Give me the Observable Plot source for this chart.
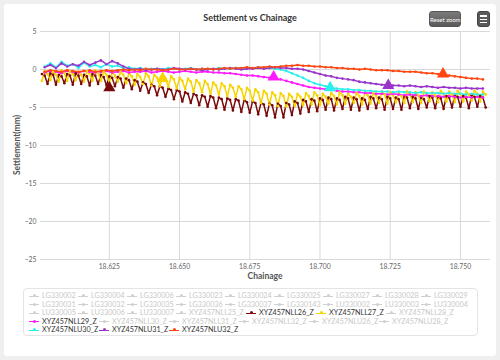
<!DOCTYPE html>
<html><head><meta charset="utf-8">
<script src="https://cdn.jsdelivr.net/npm/d3@7"></script>
<script src="https://cdn.jsdelivr.net/npm/@observablehq/plot@0.6"></script>
<style>
body{margin:0;background:#efefef;}
#root{position:relative;width:500px;height:360px;background:#efefef;font-family:Lato,"Open Sans",sans-serif;overflow:hidden}
#card{position:absolute;left:4px;top:4px;width:492px;height:352px;background:#fff;border-radius:3px}
#chart{position:absolute;left:0;top:0}
#title{position:absolute;left:0;width:500px;top:12px;text-align:center;font-weight:bold;font-size:9px;color:#333;line-height:12px}
#xlabel{position:absolute;left:40px;width:450px;top:270px;text-align:center;font-weight:bold;font-size:8.5px;color:#555;line-height:12px}
#ylabel{position:absolute;left:17px;top:145px;transform:translate(-50%,-50%) rotate(-90deg);font-weight:bold;font-size:8.5px;color:#555;white-space:nowrap}
#reset{position:absolute;left:429px;top:11px;width:32px;height:16px;border-radius:3px;background:linear-gradient(#7a7a7a,#5a5a5a);color:#fff;font-size:6px;line-height:15px;text-align:center;white-space:nowrap;border:1px solid #555;box-sizing:border-box}
#menu{position:absolute;left:477px;top:11px;width:13px;height:16px;border-radius:3px;background:#5a5a5a;border:1px solid #444;box-sizing:border-box}
#menu i{position:absolute;left:2px;width:7px;height:1.4px;background:#fff}
#legend{position:absolute;left:23px;top:288px;width:455px;height:48px;border:1px solid #e4e4e4;border-radius:4px;box-sizing:border-box}
.li{position:absolute;height:10px;line-height:10px;font-size:7.2px;white-space:nowrap}
.li .sym{position:absolute;left:0;top:4.5px;width:10px;height:1px}
.li .mk{position:absolute;left:3.5px;top:3px;width:3px;height:3px;border-radius:50%}
.li .tx{position:absolute;left:13px;top:0}
</style></head>
<body>
<div id="root">
  <div id="card"></div>
  <div id="chart"></div>
  <div id="title">Settlement vs Chainage</div>
  <div id="xlabel">Chainage</div>
  <div id="ylabel">Settlement(mm)</div>
  <div id="reset">Reset zoom</div>
  <div id="menu"><i style="top:3.2px"></i><i style="top:6.6px"></i><i style="top:10px"></i></div>
  <div id="legend"></div>
</div>
<script>
// chainage for the smoother series
const chainage = [
18.602,18.604,18.606,18.608,18.610,18.612,18.614,18.616,18.618,18.620,
18.622,18.624,18.626,18.628,18.630,18.632,18.634,18.636,18.638,18.640,
18.642,18.644,18.646,18.648,18.650,18.652,18.654,18.656,18.658,18.660,
18.662,18.664,18.666,18.668,18.670,18.672,18.674,18.676,18.678,18.680,
18.682,18.684,18.686,18.688,18.690,18.692,18.694,18.696,18.698,18.700,
18.702,18.704,18.706,18.708,18.710,18.712,18.714,18.716,18.718,18.720,
18.722,18.724,18.726,18.728,18.730,18.732,18.734,18.736,18.738,18.740,
18.742,18.744,18.746,18.748,18.750,18.752,18.754,18.756,18.758];

// denser chainage for the saw-tooth series
const chainageDense = [
18.601,18.602,18.603,18.604,18.605,18.606,18.607,18.608,18.609,18.610,
18.611,18.612,18.613,18.614,18.615,18.616,18.617,18.618,18.619,18.620,
18.621,18.622,18.623,18.624,18.625,18.626,18.627,18.628,18.629,18.630,
18.631,18.632,18.633,18.634,18.635,18.636,18.637,18.638,18.639,18.640,
18.641,18.642,18.643,18.644,18.645,18.646,18.647,18.648,18.649,18.650,
18.651,18.652,18.653,18.654,18.655,18.656,18.657,18.658,18.659,18.660,
18.661,18.662,18.663,18.664,18.665,18.666,18.667,18.668,18.669,18.670,
18.671,18.672,18.673,18.674,18.675,18.676,18.677,18.678,18.679,18.680,
18.681,18.682,18.683,18.684,18.685,18.686,18.687,18.688,18.689,18.690,
18.691,18.692,18.693,18.694,18.695,18.696,18.697,18.698,18.699,18.700,
18.701,18.702,18.703,18.704,18.705,18.706,18.707,18.708,18.709,18.710,
18.711,18.712,18.713,18.714,18.715,18.716,18.717,18.718,18.719,18.720,
18.721,18.722,18.723,18.724,18.725,18.726,18.727,18.728,18.729,18.730,
18.731,18.732,18.733,18.734,18.735,18.736,18.737,18.738,18.739,18.740,
18.741,18.742,18.743,18.744,18.745,18.746,18.747,18.748,18.749,18.750,
18.751,18.752,18.753,18.754,18.755,18.756,18.757,18.758,18.759];

const nll26 = [
-0.6,-0.8,-1.9, -0.5,-0.7,-2.0, -0.7,-0.9,-1.8, -0.6,-0.8,-2.0, -0.5,-0.8,-1.9,
-0.7,-0.9,-2.1, -0.6,-0.8,-1.9, -0.7,-1.0,-2.1, -0.9,-1.1,-2.2, -1.0,-1.2,-2.4,
-1.2,-1.4,-2.6, -1.4,-1.6,-2.8, -1.7,-1.9,-3.1, -2.0,-2.2,-3.4, -2.2,-2.4,-3.6,
-2.5,-2.7,-3.9, -2.7,-2.9,-4.2, -3.0,-3.2,-4.4, -3.2,-3.4,-4.7, -3.4,-3.6,-4.9,
-3.5,-3.7,-5.1, -3.7,-3.9,-5.3, -3.8,-4.0,-5.4, -3.9,-4.1,-5.6, -4.0,-4.3,-5.7,
-4.2,-4.4,-5.9, -4.4,-4.6,-6.1, -4.5,-4.7,-6.3, -4.5,-4.8,-6.3, -4.4,-4.6,-6.0,
-4.2,-4.4,-5.8, -4.0,-4.2,-5.6, -3.9,-4.1,-5.5, -3.8,-4.0,-5.3, -3.7,-3.9,-5.4,
-3.8,-4.0,-5.2, -3.6,-3.8,-5.3, -3.7,-3.9,-5.4, -3.8,-4.0,-5.2, -3.6,-3.8,-5.1,
-3.7,-3.9,-5.3, -3.6,-3.8,-5.2, -3.7,-3.9,-5.3, -3.5,-3.7,-5.1, -3.6,-3.8,-5.2,
-3.7,-3.9,-5.0, -3.5,-3.7,-5.1, -3.6,-3.8,-5.2, -3.5,-3.7,-5.0, -3.4,-3.6,-4.9,
-3.5,-3.7,-5.1, -3.4,-3.6,-4.9, -3.5,-3.7,-5.0];
const nll27 = [
-1.5,-0.2,-0.6, -1.4,-0.3,-0.7, -1.6,-0.1,-0.5, -1.5,-0.2,-0.6, -1.4,-0.3,-0.7,
-1.6,-0.2,-0.6, -1.5,-0.1,-0.5, -1.5,-0.3,-0.7, -1.7,-0.4,-0.8, -1.6,-0.3,-0.7,
-1.8,-0.5,-0.9, -2.0,-0.6,-1.0, -1.9,-0.5,-0.9, -2.1,-0.7,-1.1, -2.2,-0.8,-1.2,
-2.3,-0.9,-1.3, -2.5,-1.1,-1.5, -2.6,-1.2,-1.6, -2.9,-1.4,-1.8, -3.0,-1.5,-1.9,
-3.2,-1.7,-2.1, -3.3,-1.8,-2.2, -3.5,-2.0,-2.4, -3.6,-2.2,-2.6, -3.9,-2.4,-2.8,
-4.1,-2.6,-3.0, -4.4,-2.8,-3.2, -4.6,-3.0,-3.4, -4.8,-3.1,-3.5, -4.9,-3.2,-3.6,
-4.8,-3.2,-3.6, -4.7,-3.1,-3.5, -4.6,-3.0,-3.4, -4.7,-3.2,-3.6, -4.5,-3.1,-3.5,
-4.6,-3.0,-3.4, -4.5,-3.2,-3.6, -4.4,-3.1,-3.5, -4.6,-3.0,-3.4, -4.5,-3.1,-3.5,
-4.4,-2.9,-3.3, -4.5,-3.0,-3.4, -4.3,-3.1,-3.5, -4.4,-2.9,-3.3, -4.3,-3.0,-3.4,
-4.4,-2.9,-3.3, -4.2,-3.0,-3.4, -4.3,-2.8,-3.2, -4.2,-2.9,-3.3, -4.3,-2.8,-3.2,
-4.2,-2.9,-3.3, -4.1,-2.8,-3.2, -4.2,-2.9,-3.3];
const nll29 = [
-0.4,-0.2,-0.3,-0.5,-0.2,-0.3,-0.4,-0.2,-0.3,-0.4,
-0.3,-0.2,-0.4,-0.3,-0.2,-0.4,-0.3,-0.3,-0.2,-0.4,
-0.3,-0.2,-0.3,-0.4,-0.3,-0.2,-0.3,-0.4,-0.3,-0.3,
-0.4,-0.4,-0.5,-0.5,-0.6,-0.7,-0.8,-0.8,-0.9,-1.0,
-1.1,-1.2,-1.3,-1.5,-1.7,-1.9,-2.1,-2.3,-2.4,-2.5,
-2.6,-2.7,-2.8,-2.9,-2.9,-3.0,-3.0,-3.1,-3.1,-3.2,
-3.2,-3.3,-3.2,-3.3,-3.4,-3.3,-3.4,-3.5,-3.4,-3.5,
-3.5,-3.6,-3.5,-3.6,-3.7,-3.6,-3.7,-3.6,-3.7];
const nlu30 = [
0.4,0.8,0.3,1.0,0.5,0.7,0.2,0.9,0.4,0.6,
0.3,0.7,0.4,0.5,0.2,0.3,0.1,0.2,0.0,0.1,
0.1,0.0,0.2,0.1,0.0,0.1,0.2,0.0,0.1,0.1,
0.0,0.2,0.1,0.1,0.2,0.1,0.2,0.2,0.3,0.2,
0.2,0.1,0.0,-0.2,-0.5,-0.8,-1.1,-1.5,-1.8,-2.0,
-2.2,-2.4,-2.5,-2.6,-2.6,-2.7,-2.7,-2.8,-2.8,-2.9,
-2.9,-2.9,-3.0,-2.9,-3.0,-3.0,-3.1,-3.0,-3.1,-3.1,
-3.1,-3.2,-3.1,-3.2,-3.2,-3.3,-3.2,-3.3,-3.3];
const nlu31 = [
0.3,0.6,0.2,0.8,0.4,0.7,0.5,1.0,0.6,0.9,
1.2,0.7,1.1,0.8,0.4,0.1,0.0,0.1,-0.1,0.0,
0.1,0.0,0.0,0.2,0.1,0.0,0.1,0.0,-0.1,0.0,
0.1,0.0,0.1,0.2,0.1,0.0,0.1,0.1,0.2,0.1,
0.2,0.3,0.2,0.2,0.1,0.1,0.0,-0.2,-0.4,-0.6,
-0.8,-0.9,-1.1,-1.2,-1.3,-1.4,-1.6,-1.7,-1.8,-1.9,
-2.0,-2.0,-2.1,-2.1,-2.2,-2.1,-2.2,-2.3,-2.2,-2.3,
-2.4,-2.3,-2.4,-2.4,-2.5,-2.4,-2.5,-2.5,-2.5];
const nlu32 = [
-0.3,-0.1,-0.2,-0.3,-0.1,-0.2,-0.3,-0.2,-0.1,-0.3,
-0.2,-0.1,-0.2,-0.1,0.0,-0.1,0.0,-0.1,0.1,0.0,
0.0,-0.1,0.0,0.1,0.0,0.0,0.1,0.0,0.1,0.1,
0.0,0.1,0.2,0.1,0.2,0.2,0.3,0.2,0.3,0.3,
0.4,0.3,0.4,0.5,0.5,0.6,0.5,0.5,0.4,0.4,
0.3,0.3,0.2,0.2,0.1,0.1,0.0,0.1,0.0,-0.1,
-0.1,-0.1,-0.2,-0.2,-0.3,-0.3,-0.3,-0.4,-0.5,-0.5,
-0.6,-0.7,-0.8,-0.9,-1.0,-1.1,-1.2,-1.2,-1.3];

const seriesNames = ["XYZ457NLL26_Z","XYZ457NLL27_Z","XYZ457NLL29_Z","XYZ457NLU30_Z","XYZ457NLU31_Z","XYZ457NLU32_Z"];
const seriesValues = [nll26, nll27, nll29, nlu30, nlu31, nlu32];
const seriesChainage = [chainageDense, chainageDense, chainage, chainage, chainage, chainage];
const seriesColors = ["#7a0a0a","#f7d400","#ff1aff","#2af0ec","#9933cc","#ff4510"];

const markerChainage = [18.625, 18.644, 18.6835, 18.7036, 18.7243, 18.7438];
const markerValue = [-2.4, -1.2, -1.0, -2.4, -2.1, -0.6];

const xTicks = [18.625, 18.650, 18.675, 18.700, 18.725, 18.750];
const yTicks = [5, 0, -5, -10, -15, -20, -25];

const legendNames = ["LG330002","LG330004","LG330006","LG330023","LG330024","LG330025","LG330027","LG330028","LG330029",
"LG330031","LG330032","LG330035","LG330036","LG330037","LG330143","LU330002","LU330003","LU330004",
"LU330005","LU330006","LU330007","XYZ457NLL25_Z","XYZ457NLL26_Z","XYZ457NLL27_Z","XYZ457NLL28_Z",
"XYZ457NLL29_Z","XYZ457NLL30_Z","XYZ457NLL31_Z","XYZ457NLL32_Z","XYZ457NLU26_Z","XYZ457NLU28_Z",
"XYZ457NLU30_Z","XYZ457NLU31_Z","XYZ457NLU32_Z"];

const rows = [];
seriesNames.forEach((name, s) => seriesValues[s].forEach((v, i) => rows.push({series: name, c: seriesChainage[s][i], v})));
const markers = seriesNames.map((name, s) => ({series: name, c: markerChainage[s], v: markerValue[s]}));

const chart = Plot.plot({
  width: 500, height: 285,
  marginLeft: 40, marginRight: 10, marginTop: 31, marginBottom: 26,
  style: {background: "transparent", fontFamily: "Lato, 'Open Sans', sans-serif", fontSize: "6.8px", color: "#666"},
  x: {domain: [18.6005, 18.7607]},
  y: {domain: [-25, 5]},
  color: {domain: seriesNames, range: seriesColors},
  marks: [
    Plot.gridX(xTicks, {stroke: "#d9d9d9", strokeOpacity: 1}),
    Plot.gridY(yTicks, {stroke: "#d9d9d9", strokeOpacity: 1}),
    Plot.axisX(xTicks, {tickSize: 0, tickPadding: 5, tickFormat: d3.format(".3f"), label: null}),
    Plot.axisY(yTicks, {tickSize: 0, tickPadding: 4, label: null}),
    Plot.line(rows, {x: "c", y: "v", z: "series", stroke: "series", strokeWidth: 1.5}),
    Plot.dot(rows, {x: "c", y: "v", fill: "series", r: 1.3}),
    Plot.dot(markers, {x: "c", y: "v", fill: "series", symbol: "triangle", r: 4.5})
  ]
});
document.getElementById("chart").appendChild(chart);

// legend
const root = document.getElementById("root");
const active = new Map(seriesNames.map((n, i) => [n, seriesColors[i]]));
let lx = 29, row = 0;
legendNames.forEach(name => {
  const w = name.length > 8 ? 70 : 49;
  if (lx + w > 481) { row++; lx = 29; }
  const y = 296 + row * 8.6;
  const col = active.get(name);
  const el = document.createElement("div");
  el.className = "li";
  el.style.left = lx + "px";
  el.style.top = (y - 5) + "px";
  el.style.width = (w - 2) + "px";
  el.innerHTML = `<div class="sym" style="background:${col || "#d0d0d0"}"></div><div class="mk" style="background:${col || "#d0d0d0"}"></div><div class="tx" style="color:${col ? "#333" : "#c8c8c8"}">${name}</div>`;
  root.appendChild(el);
  lx += w;
});
</script>
</body></html>
